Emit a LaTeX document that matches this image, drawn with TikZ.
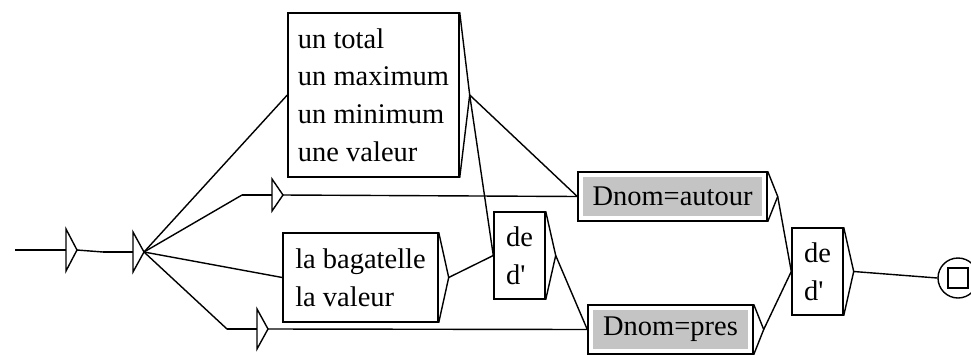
\documentclass[tikz,border=0pt]{standalone}
\usepackage{fontspec}
\setmainfont{Liberation Serif}
\usetikzlibrary{calc}
\definecolor{BoxGrey}{RGB}{196,196,196}
\tikzset{
  box/.style={draw=black,line width=1.2pt,fill=white,align=left,inner sep=0pt,
    font=\fontsize{24.3}{32.2}\selectfont},
  outbox/.style={box,path picture={\fill[BoxGrey]
    ([shift={(0.15cm,-0.15cm)}]path picture bounding box.north west) rectangle
    ([shift={(-0.15cm,0.15cm)}]path picture bounding box.south east);}},
  final/.style={draw=black,line width=1.2pt,inner sep=0pt},
  link/.style={line width=1.2pt,black}
}
% empty box: name, x of triangle, y, half height
\newcommand\epsbox[4]{%
  \draw[link] (#2-30,#3) coordinate (#1-in) -- (#2,#3);
  \draw[link] (#2,#3-#4) -- (#2+11,#3) coordinate (#1-out) -- (#2,#3+#4) -- cycle;
}

\begin{document}
\begin{tikzpicture}[x=0.03cm,y=-0.03cm]
\useasboundingbox (0,0) rectangle (971,354);

% boxes
\node[box,minimum width=5.13cm,minimum height=4.92cm] (lst) at (373.5,95)
  {un total\\un maximum\\un minimum\\une valeur};
\node[box,minimum width=4.65cm,minimum height=2.67cm] (bag) at (360.5,277.5)
  {la bagatelle\\la valeur};
\node[box,minimum width=1.53cm,minimum height=2.61cm] (de1) at (519.5,255.5)
  {de\\d\textquotesingle};
\node[outbox,minimum width=5.67cm,minimum height=1.47cm] (aut) at (672.5,196.5)
  {Dnom=autour};
\node[outbox,minimum width=4.95cm,minimum height=1.47cm] (pres) at (670.5,329.5)
  {Dnom=pres};
\node[box,minimum width=1.53cm,minimum height=2.61cm] (de2) at (817.5,271.5)
  {de\\d\textquotesingle};

% final state
\node[final,circle,minimum size=1.2cm] (fin) at (958,278) {};
\node[final,minimum size=0.6cm] (finsq) at (fin) {};

\foreach \b in {lst,bag,de1,aut,pres,de2}
  \draw[link] (\b.north east) -- ([xshift=0.3cm]\b.east) coordinate (\b-o)
    -- (\b.south east);

% initial state and empty boxes
\coordinate (start) at (15,250);
\epsbox{init}{66}{250}{21}
\epsbox{hub}{133}{252}{20}
\epsbox{epsA}{272}{195}{16}
\epsbox{epsB}{257}{329}{20}

% transitions
\draw[link] (start) -- (init-in);
\draw[link] (init-out) -- (hub-in);
\draw[link] (hub-out) -- (lst.west);
\draw[link] (hub-out) -- (epsA-in);
\draw[link] (hub-out) -- (bag.west);
\draw[link] (hub-out) -- (epsB-in);
\draw[link] (epsA-out) -- (aut.west);
\draw[link] (epsB-out) -- (pres.west);
\draw[link] (lst-o) -- (aut.west);
\draw[link] (lst-o) -- (de1.west);
\draw[link] (bag-o) -- (de1.west);
\draw[link] (de1-o) -- (pres.west);
\draw[link] (aut-o) -- (de2.west);
\draw[link] (pres-o) -- (de2.west);
\draw[link] (de2-o) -- (fin.west);

\end{tikzpicture}
\end{document}
